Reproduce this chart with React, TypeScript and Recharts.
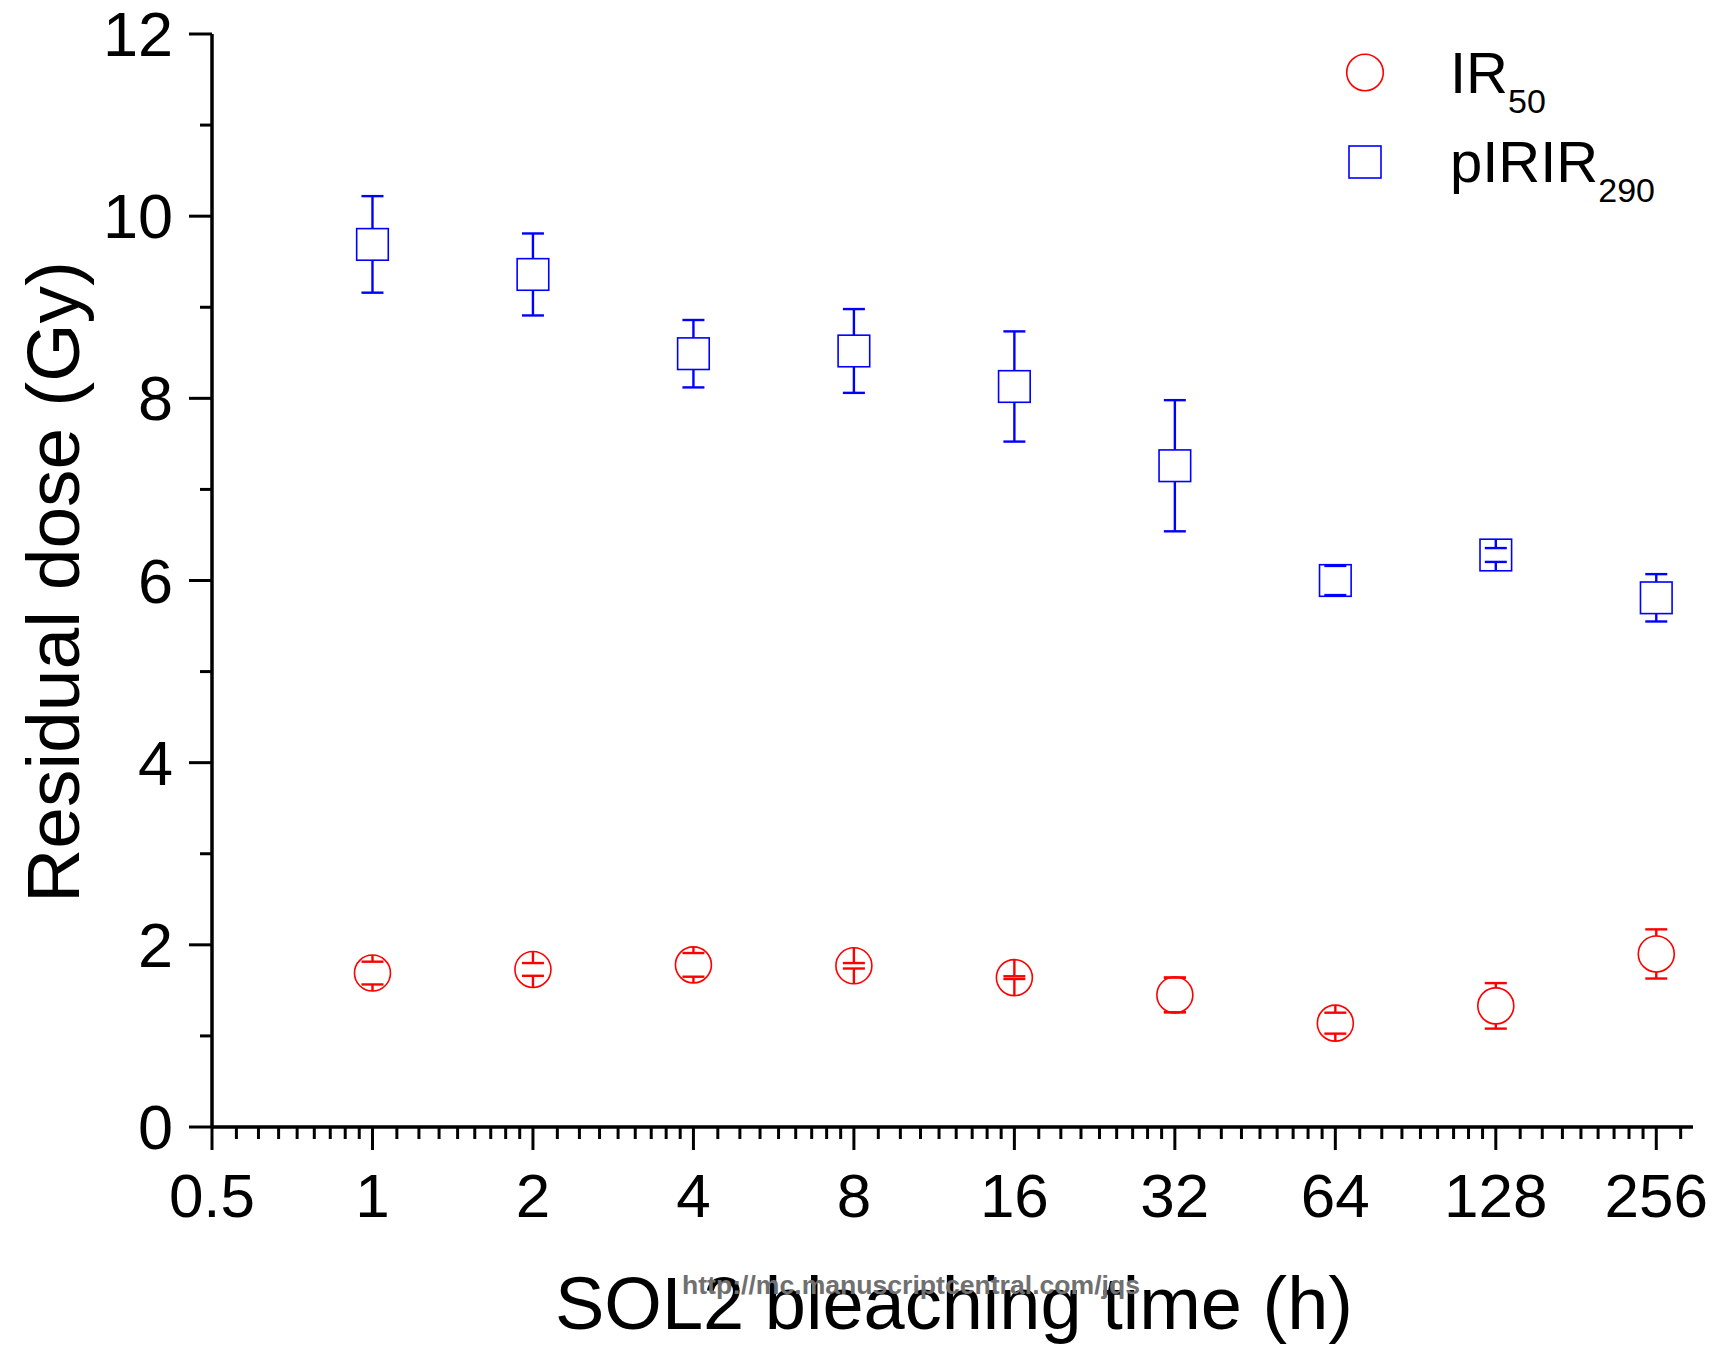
import React from "react";
import { ScatterChart, Scatter, XAxis, YAxis, ErrorBar } from "recharts";

// bleaching times (h) and residual doses (Gy)
const bleachHours = [1, 2, 4, 8, 16, 32, 64, 128, 256];
const ir50Dose = [1.69, 1.73, 1.78, 1.77, 1.64, 1.45, 1.14, 1.33, 1.9];
const ir50Err = [0.125, 0.07, 0.13, 0.03, 0.015, 0.19, 0.115, 0.25, 0.27];
const pirir290Dose = [9.69, 9.36, 8.49, 8.52, 8.13, 7.26, 6.0, 6.28, 5.81];
const pirir290Err = [0.53, 0.45, 0.37, 0.46, 0.605, 0.72, 0.16, 0.076, 0.26];

const xMajorTicks = [0.5, 1, 2, 4, 8, 16, 32, 64, 128, 256];
const yTicks = [0, 1, 2, 3, 4, 5, 6, 7, 8, 9, 10, 11, 12];
const X_MAX = 300;
const Y_MAX = 12;

const W = 1719;
const H = 1347;
const PLOT_LEFT = 212;
const PLOT_TOP = 34;
const PLOT_RIGHT = 1693;
const PLOT_BOTTOM = 1127;
const Y_AXIS_W = 150;
const X_AXIS_H = 140;
const PX_PER_GY = (PLOT_BOTTOM - PLOT_TOP) / Y_MAX;

const FONT = "'Liberation Sans', Arial, sans-serif";
const RED = "#ff0000";
const BLUE = "#0000ff";

// Origin-style minor ticks: 8 linear steps inside each octave
const xMinorTicks: number[] = [];
xMajorTicks.forEach((a) => {
  for (let k = 1; k <= 8; k++) {
    const v = a + (k * a) / 9;
    if (v < X_MAX) xMinorTicks.push(v);
  }
});
const xAllTicks = [...xMajorTicks, ...xMinorTicks].sort((p, q) => p - q);

const ir50Data = bleachHours.map((t, i) => ({ t, v: ir50Dose[i], err: ir50Err[i] }));
const pirirData = bleachHours.map((t, i) => ({ t, v: pirir290Dose[i], err: pirir290Err[i] }));

function XTick(props: any) {
  const { x, y, payload } = props;
  const major = xMajorTicks.includes(payload.value);
  return (
    <g>
      <line x1={x} x2={x} y1={y} y2={y + (major ? 23 : 12)} stroke="#000" strokeWidth={3} />
      {major && (
        <text x={x} y={y + 90} textAnchor="middle" fontSize={62} fontFamily={FONT} fill="#000">
          {payload.value}
        </text>
      )}
    </g>
  );
}

function YTick(props: any) {
  const { x, y, payload } = props;
  const major = payload.value % 2 === 0;
  return (
    <g>
      <line x1={x} x2={x - (major ? 23 : 12)} y1={y} y2={y} stroke="#000" strokeWidth={3} />
      {major && (
        <text x={x - 39} y={y + 22} textAnchor="end" fontSize={63} fontFamily={FONT} fill="#000">
          {payload.value}
        </text>
      )}
    </g>
  );
}

// hollow symbol; where the error is smaller than the symbol, draw the bar Origin-style inside it
const makeShape = (kind: "circle" | "square", color: string) => (props: any) => {
  const { cx, cy, payload } = props;
  const r = kind === "circle" ? 18 : 15.8;
  const d = payload.err * PX_PER_GY;
  return (
    <g>
      {kind === "circle" ? (
        <circle cx={cx} cy={cy} r={r} fill="#fff" stroke={color} strokeWidth={1.6} />
      ) : (
        <rect x={cx - r} y={cy - r} width={2 * r} height={2 * r} fill="#fff" stroke={color} strokeWidth={1.6} />
      )}
      {d < r && (
        <g stroke={color} strokeWidth={2.4}>
          <line x1={cx} x2={cx} y1={cy - r} y2={cy - d} />
          <line x1={cx} x2={cx} y1={cy + d} y2={cy + r} />
          <line x1={cx - 11} x2={cx + 11} y1={cy - d} y2={cy - d} />
          <line x1={cx - 11} x2={cx + 11} y1={cy + d} y2={cy + d} />
        </g>
      )}
    </g>
  );
};

export default function App() {
  return (
    <div style={{ position: "absolute", left: 0, top: 0, background: "#fff" }}>
      <ScatterChart
        width={W}
        height={H}
        margin={{
          top: PLOT_TOP,
          right: W - PLOT_RIGHT,
          left: PLOT_LEFT - Y_AXIS_W,
          bottom: H - PLOT_BOTTOM - X_AXIS_H,
        }}
      >
        <XAxis
          type="number"
          dataKey="t"
          scale="log"
          domain={[0.5, X_MAX]}
          ticks={xAllTicks}
          interval={0}
          tick={<XTick />}
          tickLine={false}
          tickSize={0}
          tickMargin={0}
          height={X_AXIS_H}
          axisLine={{ stroke: "#000", strokeWidth: 3.5 }}
          allowDataOverflow
        />
        <YAxis
          type="number"
          dataKey="v"
          domain={[0, Y_MAX]}
          ticks={yTicks}
          interval={0}
          tick={<YTick />}
          tickLine={false}
          tickSize={0}
          tickMargin={0}
          width={Y_AXIS_W}
          axisLine={{ stroke: "#000", strokeWidth: 3.5 }}
        />
        <Scatter name="IR50" data={ir50Data} isAnimationActive={false} shape={makeShape("circle", RED)}>
          <ErrorBar dataKey="err" direction="y" width={11} stroke={RED} strokeWidth={2.4} isAnimationActive={false} />
        </Scatter>
        <Scatter name="pIRIR290" data={pirirData} isAnimationActive={false} shape={makeShape("square", BLUE)}>
          <ErrorBar dataKey="err" direction="y" width={11} stroke={BLUE} strokeWidth={2.4} isAnimationActive={false} />
        </Scatter>

        {/* legend */}
        <g fontFamily={FONT} fill="#000">
          <circle cx={1365} cy={72.5} r={18.3} fill="none" stroke={RED} strokeWidth={1.6} />
          <text x={1450} y={93} fontSize={58}>
            IR<tspan fontSize={34} dy={20}>50</tspan>
          </text>
          <rect x={1349} y={146} width={32} height={32} fill="none" stroke={BLUE} strokeWidth={1.6} />
          <text x={1450} y={182} fontSize={58}>
            pIRIR<tspan fontSize={34} dy={20}>290</tspan>
          </text>
        </g>

        {/* axis titles */}
        <text x={954} y={1329} textAnchor="middle" fontSize={74} fontFamily={FONT} fill="#000">
          SOL2 bleaching time (h)
        </text>
        <text transform="translate(79,582) rotate(-90)" textAnchor="middle" fontSize={75} fontFamily={FONT} fill="#000">
          Residual dose (Gy)
        </text>
        <text
          x={682}
          y={1294}
          fontSize={25}
          fontWeight="bold"
          fontFamily={FONT}
          fill="#707070"
          textLength={458}
          lengthAdjust="spacingAndGlyphs"
        >
          http://mc.manuscriptcentral.com/jqs
        </text>
      </ScatterChart>
    </div>
  );
}
